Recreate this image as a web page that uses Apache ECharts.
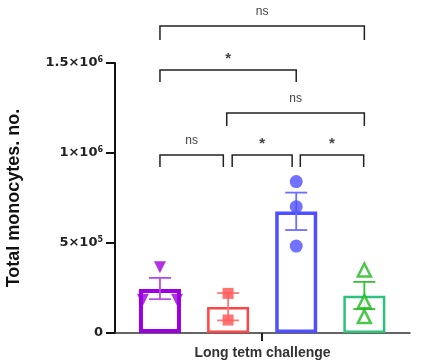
<!DOCTYPE html>
<html><head><meta charset="utf-8">
<script src="https://cdn.jsdelivr.net/npm/echarts@6/dist/echarts.min.js"></script>
<style>html,body{margin:0;padding:0;background:#fff}#c{width:427px;height:363px}</style>
</head><body><div id="c"></div>
<script>
// ---- data ----
const groupX = [1, 2, 3, 4];
const barMeans = [245000, 145000, 675000, 207000];
const errLow = [188000, 70000, 572000, 133000];
const errHigh = [306000, 222000, 780000, 284000];
const purplePts = [[0.75, 185000], [1, 365000], [1.25, 185000]];
const redPts = [[2, 220000], [2, 72000]];
const bluePts = [[3, 841000], [3, 702000], [3, 483000]];
const greenPts = [[4, 350000], [4, 174000], [4, 91000]];
const yTickValues = [0, 500000, 1000000, 1500000];
const yTickBase = ['0', '5×10', '1×10', '1.5×10'];
const yTickExp = ['', '5', '6', '6'];
const bracketX1 = [1, 1, 1.98, 1, 2.06, 3.06];
const bracketX2 = [4, 3, 4, 1.93, 2.94, 3.99];
const bracketTop = [1706000, 1461000, 1222000, 989000, 989000, 989000];
const bracketLeg = [1628000, 1394000, 1150000, 922000, 922000, 922000];
const bracketLabels = ['ns', '*', 'ns', 'ns', '*', '*'];
const xTickValues = [2.5];
const xAxisName = 'Long tetm challenge';
const yAxisName = 'Total monocytes. no.';

const barColors = ['#9d00e0', '#ff4545', '#4f4fff', '#2fc27a'];
const barBorderW = [4, 2.5, 3.5, 2.5];
const errColors = ['#b64cea', '#ff7a7a', '#6d6dff', '#33c233'];

const chart = echarts.init(document.getElementById('c'), null, {renderer: 'canvas'});
const FONT = 'Liberation Sans, Arial, sans-serif';
const LFONT = 'DejaVu Sans, sans-serif';

const option = {
  animation: false,
  backgroundColor: '#fff',
  grid: {left: 115, right: 17, top: 63, bottom: 30, containLabel: false, outerBoundsMode: 'none'},
  xAxis: {
    type: 'value', min: 0.34, max: 4.67,
    name: xAxisName, nameLocation: 'middle', nameGap: 13,
    nameTextStyle: {fontFamily: FONT, fontWeight: 'bold', fontSize: 14, color: '#333'},
    axisLine: {show: true, onZero: false, lineStyle: {color: '#333', width: 1.5}},
    axisTick: {show: true, customValues: xTickValues, length: 8, lineStyle: {color: '#222', width: 2}},
    axisLabel: {show: false},
    splitLine: {show: false}
  },
  yAxis: {
    type: 'value', min: 0, max: 1500000, interval: 500000,
    name: yAxisName, nameLocation: 'middle', nameGap: 92,
    nameTextStyle: {fontFamily: FONT, fontWeight: 'bold', fontSize: 18, color: '#111'},
    axisLine: {show: true, lineStyle: {color: '#111', width: 2}},
    axisTick: {show: true, length: 9, lineStyle: {color: '#111', width: 2}},
    axisLabel: {
      margin: 12,
      formatter: function (v) {
        const i = yTickValues.indexOf(v);
        if (i < 0) return '';
        return yTickExp[i] ? '{b|' + yTickBase[i] + '}{s|' + yTickExp[i] + '}' : '{b|' + yTickBase[i] + '}';
      },
      rich: {
        b: {fontFamily: LFONT, fontWeight: 'bold', fontSize: 13, color: '#222'},
        s: {fontFamily: LFONT, fontWeight: 'bold', fontSize: 8, color: '#222', verticalAlign: 'top', padding: [0, 0, 6, 0]}
      }
    },
    splitLine: {show: false}
  },
  series: [
    {
      type: 'bar', barWidth: 42,
      data: groupX.map((x, i) => ({
        value: [x, barMeans[i]],
        itemStyle: {color: 'rgba(255,255,255,0)', borderColor: barColors[i], borderWidth: barBorderW[i]}
      })),
      z: 2
    },
    {
      type: 'custom', clip: false, z: 3,
      data: groupX.map((x, i) => [x, errLow[i], errHigh[i]]),
      encode: {x: 0, y: [1, 2]},
      renderItem: function (params, api) {
        const i = params.dataIndex;
        const lo = api.coord([api.value(0), api.value(1)]);
        const hi = api.coord([api.value(0), api.value(2)]);
        const hw = 11;
        const st = {stroke: errColors[i], lineWidth: 1.8};
        return {type: 'group', children: [
          {type: 'line', shape: {x1: lo[0], y1: lo[1], x2: hi[0], y2: hi[1]}, style: st},
          {type: 'line', shape: {x1: lo[0] - hw, y1: lo[1], x2: lo[0] + hw, y2: lo[1]}, style: st},
          {type: 'line', shape: {x1: hi[0] - hw, y1: hi[1], x2: hi[0] + hw, y2: hi[1]}, style: st}
        ]};
      }
    },
    {type: 'scatter', z: 4, data: purplePts, symbol: 'triangle', symbolRotate: 180, symbolSize: 12, itemStyle: {color: '#9d00e0'}},
    {type: 'scatter', z: 4, data: redPts, symbol: 'rect', symbolSize: 11, itemStyle: {color: '#ff5a5a', opacity: 0.85}},
    {type: 'scatter', z: 4, data: bluePts, symbol: 'circle', symbolSize: 13, itemStyle: {color: '#4f4fff'}},
    {type: 'scatter', z: 4, data: greenPts, symbol: 'triangle', symbolSize: 13, itemStyle: {color: '#fff', borderColor: '#1fb81f', borderWidth: 2.5}},
    {
      type: 'custom', clip: false, z: 5,
      data: bracketX1.map((x1, i) => [x1, bracketX2[i], bracketTop[i], bracketLeg[i]]),
      encode: {x: [0, 1], y: [2, 3]},
      renderItem: function (params, api) {
        const i = params.dataIndex;
        const x1 = api.value(0), x2 = api.value(1), yt = api.value(2), yl = api.value(3);
        const p1 = api.coord([x1, yl]), p2 = api.coord([x1, yt]), p3 = api.coord([x2, yt]), p4 = api.coord([x2, yl]);
        const lab = bracketLabels[i];
        const star = lab === '*';
        return {type: 'group', children: [
          {type: 'polyline', shape: {points: [p1, p2, p3, p4]}, style: {stroke: '#222', lineWidth: 1.5, fill: null}},
          {type: 'text', x: (p2[0] + p3[0]) / 2, y: p2[1] - (star ? 11 : 14),
           style: {text: lab, textAlign: 'center', textVerticalAlign: 'middle', fontFamily: FONT,
                   fontWeight: star ? 'bold' : 'normal', fontSize: star ? 15 : 12, fill: '#444'}}
        ]};
      }
    }
  ]
};
chart.setOption(option);
</script></body></html>
